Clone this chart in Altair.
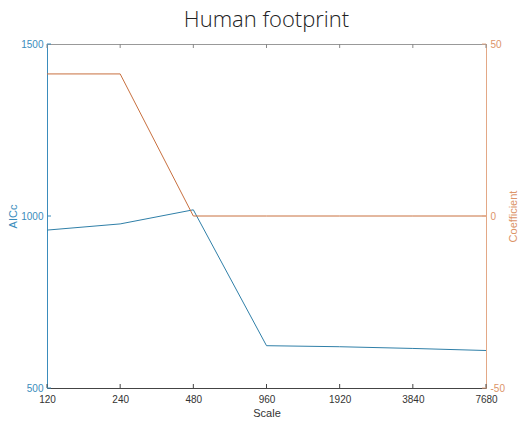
import altair as alt
import pandas as pd

# Spatial scales (grain) and model results at each scale
scales = [120, 240, 480, 960, 1920, 3840, 7680]
aicc = [959, 977, 1018, 623, 620, 615, 609]
coefficient = [41.3, 41.3, 0.0, 0.0, 0.0, 0.0, 0.0]

aicc_ticks = [500, 1000, 1500]
coef_ticks = [-50, 0, 50]

BLUE_LINE = "#2f7fa8"
ORANGE_LINE = "#c8703f"
BLUE_TEXT = "#3a8cbc"
ORANGE_TEXT = "#dc9468"
ORANGE_AXIS = "#e3a886"
DARK = "#333333"

W, H = 439, 344

df = pd.DataFrame({"Scale": scales, "AICc": aicc, "Coefficient": coefficient})
df_aicc_ticks = pd.DataFrame({"AICc": aicc_ticks})
df_coef_ticks = pd.DataFrame({"Coefficient": coef_ticks})

plain_label = "'' + datum.value"

x = alt.X(
    "Scale:Q",
    scale=alt.Scale(type="log", base=2, domain=[120, 7680], nice=False),
    axis=alt.Axis(
        values=scales, labelExpr=plain_label, title="Scale", tickSize=0, labelPadding=6,
        labelColor=DARK, labelFont="Liberation Sans", labelFontSize=10,
        titleColor=DARK, titleFont="Liberation Sans", titleFontSize=11,
        titleFontWeight="normal", titlePadding=3, domainColor="#444444",
        grid=False, labelFlush=False,
    ),
)

y_left = alt.Y(
    "AICc:Q",
    scale=alt.Scale(domain=[500, 1500], nice=False, zero=False),
    axis=alt.Axis(
        values=aicc_ticks, orient="left", title="AICc", tickSize=0, labelPadding=4,
        labelExpr=plain_label,
        labelColor=BLUE_TEXT, labelFont="Liberation Sans", labelFontSize=10,
        titleColor=BLUE_TEXT, titleFont="Liberation Sans", titleFontSize=11,
        titleFontWeight="normal", titleAngle=270, titleX=-34, titleY=H / 2,
        titleAlign="center", titleBaseline="middle",
        domainColor=BLUE_TEXT, grid=False,
    ),
)

y_right = alt.Y(
    "Coefficient:Q",
    scale=alt.Scale(domain=[-50, 50], nice=False, zero=False),
    axis=alt.Axis(
        values=coef_ticks, orient="right", title="Coefficient", tickSize=0, labelPadding=4,
        labelExpr=plain_label,
        labelColor=ORANGE_TEXT, labelFont="Liberation Sans", labelFontSize=10,
        titleColor=ORANGE_TEXT, titleFont="Liberation Sans", titleFontSize=11,
        titleFontWeight="normal", titleAngle=270, titleX=27, titleY=H / 2,
        titleAlign="center", titleBaseline="middle",
        domainColor=ORANGE_AXIS, grid=False,
    ),
)

aicc_line = alt.Chart(df).mark_line(color=BLUE_LINE, strokeWidth=1).encode(x=x, y=y_left)

# inward tick marks on the x axis (bottom and top)
bottom_ticks = alt.Chart(df).mark_rule(color="#444444", strokeWidth=1).encode(
    x=x, y=alt.value(H), y2=alt.value(H - 4)
)
top_ticks = alt.Chart(df).mark_rule(color="#888888", strokeWidth=1).encode(
    x=x, y=alt.value(0), y2=alt.value(4)
)
# inward tick marks on the AICc axis
left_ticks = alt.Chart(df_aicc_ticks).mark_rule(color=BLUE_TEXT, strokeWidth=1).encode(
    y=y_left, x=alt.value(0), x2=alt.value(4),
)

left = alt.layer(aicc_line, bottom_ticks, top_ticks, left_ticks)

coef_line = alt.Chart(df).mark_line(color=ORANGE_LINE, strokeWidth=1).encode(x=x, y=y_right)
# inward tick marks on the coefficient axis
right_ticks = alt.Chart(df_coef_ticks).mark_rule(color=ORANGE_AXIS, strokeWidth=1).encode(
    y=y_right, x=alt.value(W), x2=alt.value(W - 4),
)
right = alt.layer(coef_line, right_ticks)

chart = (
    alt.layer(left, right)
    .resolve_scale(y="independent")
    .properties(
        width=W,
        height=H,
        title=alt.TitleParams(
            "Human footprint", font="Open Sans", fontSize=22, fontWeight=300,
            color="#222222", anchor="middle", offset=7,
        ),
        padding={"left": 47, "top": 44, "right": 45, "bottom": 38},
        autosize=alt.AutoSizeParams(type="none"),
        background="white",
    )
    .configure_view(stroke="#999999", strokeWidth=1)
)

chart.save("out.html", embed_options={"renderer": "svg", "actions": False})
